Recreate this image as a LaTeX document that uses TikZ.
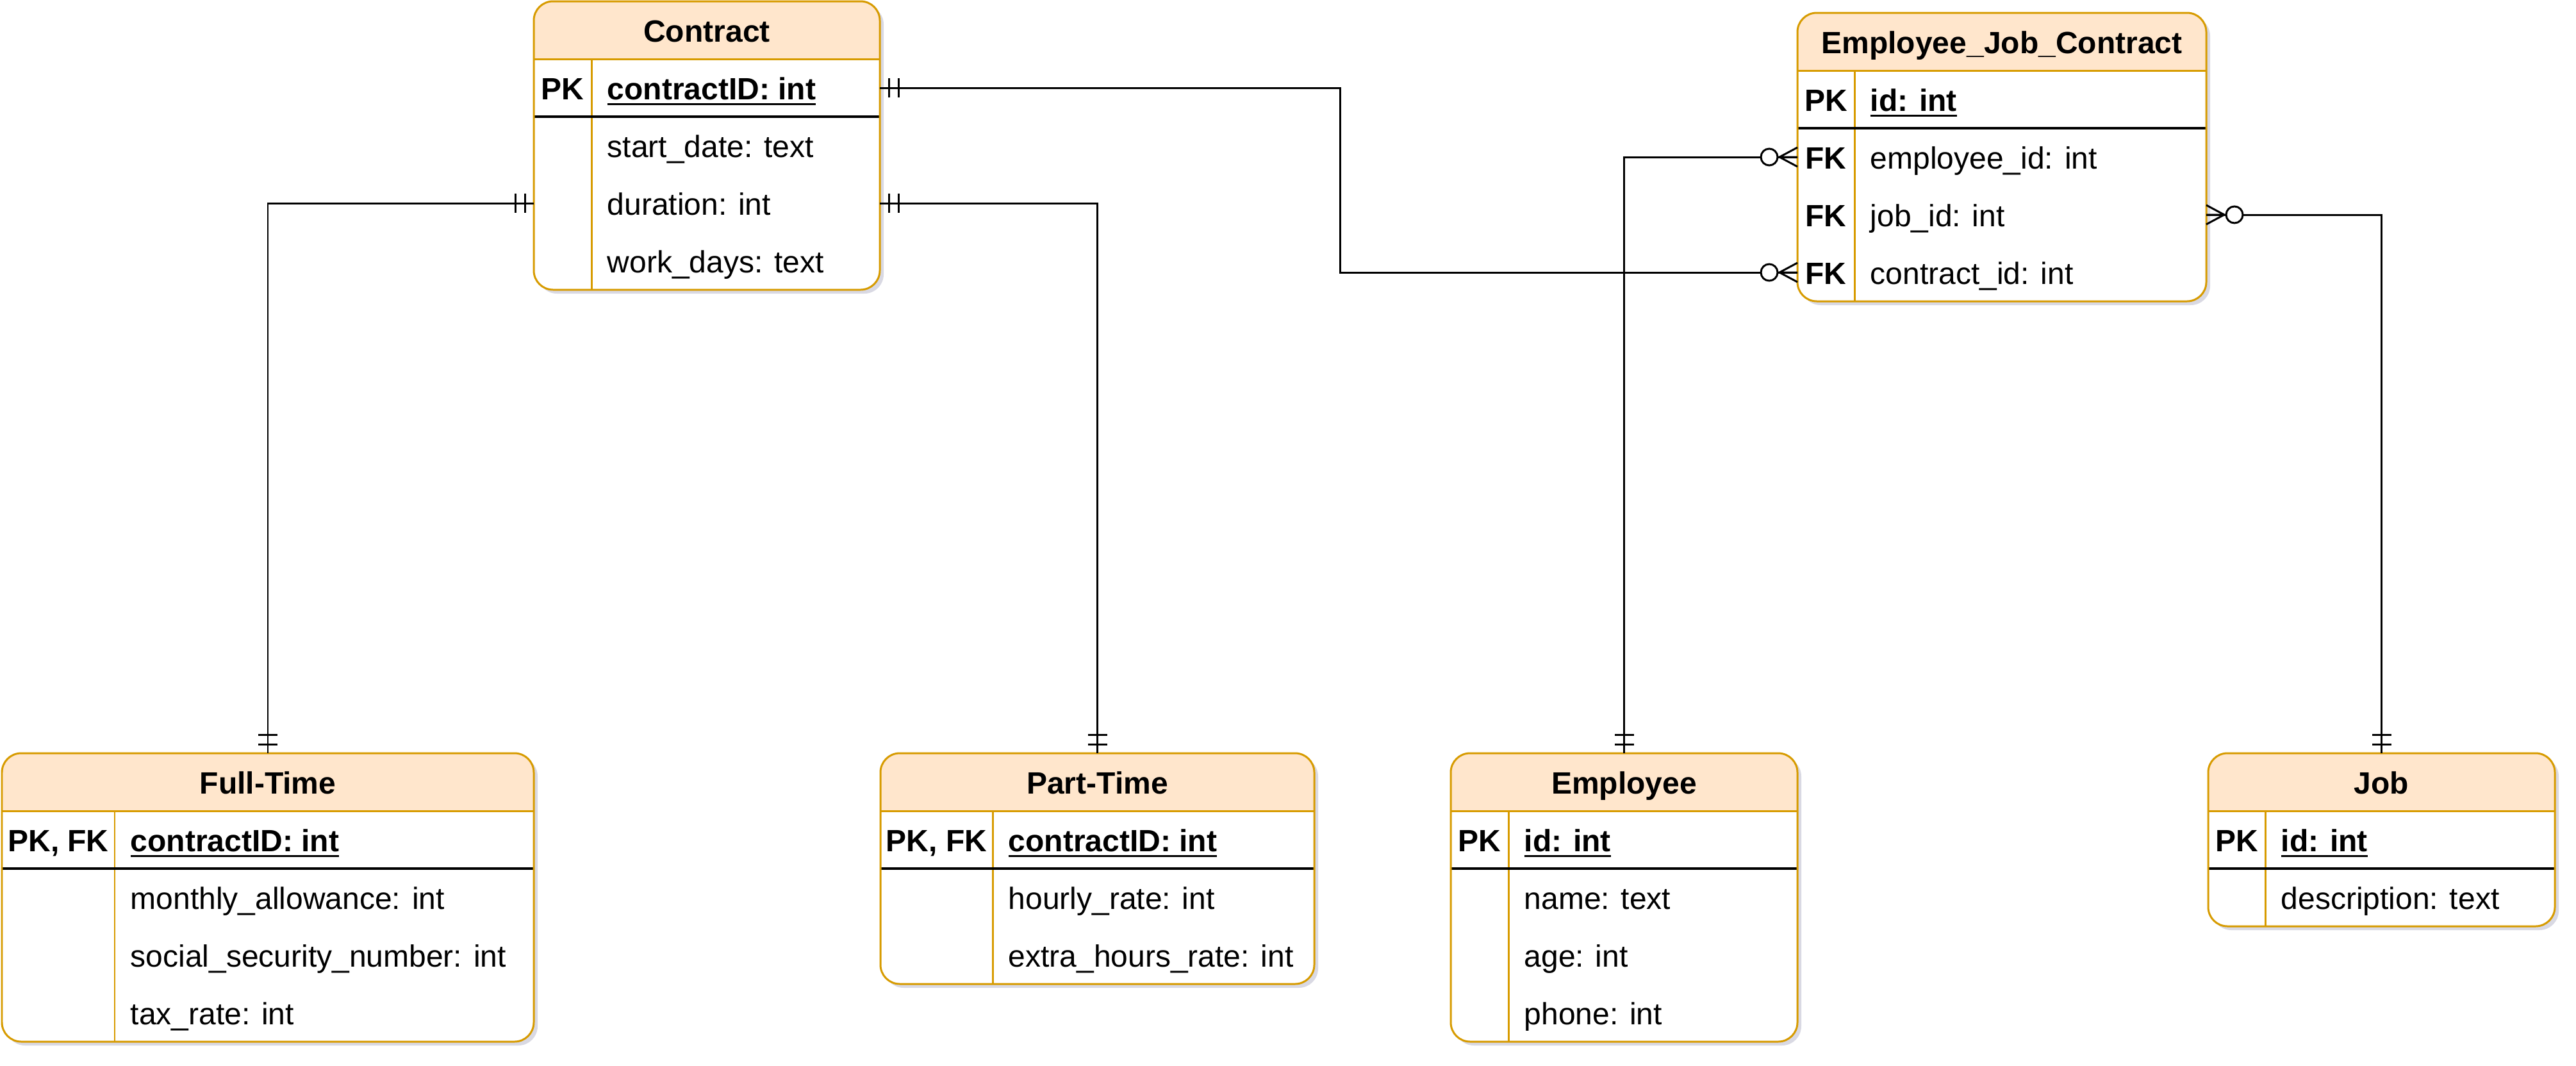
\documentclass[tikz,border=0pt]{standalone}
\usepackage{fontspec}
\setmainfont{Liberation Sans}
\usetikzlibrary{shadows}

\definecolor{hdrfill}{HTML}{FFE6CC}
\definecolor{brdcol}{HTML}{D79B00}

\newcommand{\erfont}{\fontsize{13.66}{16}\selectfont}
\newcommand{\pkline}[1]{\bfseries\setbox0=\hbox{#1}\rlap{\rule[-2.6pt]{\wd0}{0.9pt}}\box0}

\tikzset{
    tblframe/.style={draw=brdcol, line width=0.85pt, rounded corners=0.3cm, inner sep=0pt, outer sep=0pt},
    rowbox/.style={inner sep=0pt, outer sep=0pt, minimum height=0.9cm},
    keytext/.style={anchor=base, inner sep=0pt, font=\erfont\bfseries},
    fieldtext/.style={anchor=base west, inner sep=0pt},
    titletext/.style={anchor=base, inner sep=0pt, font=\erfont\bfseries},
    conn/.style={line width=0.85pt},
    mandone/.pic={\draw[conn] (0.14,-0.15) -- (0.14,0.15) (0.29,-0.15) -- (0.29,0.15);},
    zeromany/.pic={\draw[conn] (0,0.15) -- (0.28,0) -- (0,-0.15) (0,0) -- (0.31,0);
        \draw[conn, fill=white] (0.44,0) circle (0.13);},
}

% #1 name, #2 top left, #3 width, #4 key column, #5 rows, #6 title, #7 key/field
\newcommand{\ertable}[7]{%
    \begin{scope}[shift={#2}]
        \pgfmathsetmacro\tblh{0.9*(#5+1)}
        \fill[white, rounded corners=0.3cm, drop shadow={opacity=0.15, fill=blue!25!black, shadow xshift=0.06cm, shadow yshift=-0.06cm}]
            (0,0) rectangle (#3,-\tblh);
        \begin{scope}
            \clip[rounded corners=0.3cm] (0,0) rectangle (#3,-\tblh);
            \fill[hdrfill] (0,0) rectangle (#3,-0.9);
        \end{scope}
        \draw[brdcol, line width=0.85pt] (0,-0.9) -- (#3,-0.9) (#4,-0.9) -- (#4,-\tblh);
        \draw[line width=1pt] (0,-1.8) -- (#3,-1.8);
        \node[tblframe, minimum width=#3cm, minimum height=\tblh cm, anchor=north west] (#1) at (0,0) {};
        \node[titletext] (#1-title) at (#3/2,-0.63) {#6};
        \foreach[count=\i] \k/\f in {#7} {
            \node[rowbox, minimum width=#3cm] (#1-\i) at (#3/2,-0.45-0.9*\i) {};
            \node[keytext] (#1-\i-key) at (#4/2,-0.63-0.9*\i) {\k};
            \node[fieldtext] (#1-\i-field) at (#4+0.24,-0.63-0.9*\i) {\f};
        }
    \end{scope}}

\begin{document}
\begin{tikzpicture}[font=\erfont]
    \useasboundingbox (0,0) rectangle (40.2,-16.62);
    % top
    \ertable{contract}{(8.33,-0.02)}{5.4}{0.9}{4}{Contract}
        {PK/\pkline{contractID: int}, /start\_date: text, /duration: int, /work\_days: text}
    \ertable{ejc}{(28.05,-0.2)}{6.38}{0.89}{4}{Employee\_Job\_Contract}
        {PK/\pkline{id: int}, FK/employee\_id: int, FK/job\_id: int, FK/contract\_id: int}
    % bottom
    \ertable{ftime}{(0.03,-11.75)}{8.3}{1.76}{4}{Full-Time}
        {{PK, FK}/\pkline{contractID: int}, /monthly\_allowance: int, /social\_security\_number: int, /tax\_rate: int}
    \ertable{ptime}{(13.74,-11.75)}{6.77}{1.75}{3}{Part-Time}
        {{PK, FK}/\pkline{contractID: int}, /hourly\_rate: int, /extra\_hours\_rate: int}
    \ertable{employee}{(22.64,-11.75)}{5.41}{0.9}{4}{Employee}
        {PK/\pkline{id: int}, /name: text, /age: int, /phone: int}
    \ertable{job}{(34.46,-11.75)}{5.41}{0.89}{2}{Job}
        {PK/\pkline{id: int}, /description: text}

    % relations
    \draw[conn] (contract-1.east) -- ++(7.18,0) |- (ejc-4.west);
    \draw[conn] (contract-3.west) -| (ftime.north);
    \draw[conn] (contract-3.east) -| (ptime.north);
    \draw[conn] (ejc-2.west) -| (employee.north);
    \draw[conn] (ejc-3.east) -| (job.north);

    \pic at (contract-1.east) {mandone};
    \pic[rotate=180] at (contract-3.west) {mandone};
    \pic at (contract-3.east) {mandone};
    \pic[rotate=180] at (ejc-4.west) {zeromany};
    \pic[rotate=180] at (ejc-2.west) {zeromany};
    \pic at (ejc-3.east) {zeromany};
    \foreach \t in {ftime,ptime,employee,job}
        \pic[rotate=90] at (\t.north) {mandone};
\end{tikzpicture}
\end{document}
